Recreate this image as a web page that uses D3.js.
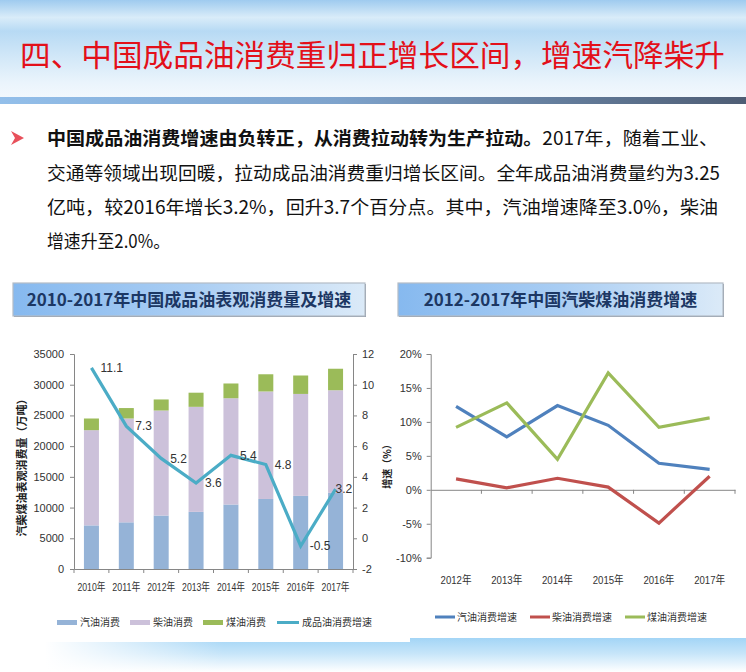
<!DOCTYPE html>
<html><head><meta charset="utf-8">
<script src="https://cdn.jsdelivr.net/npm/d3@7"></script>
<style>
html,body{margin:0;padding:0;background:#fff;}
svg{display:block;}
text{font-family:"Liberation Sans","Noto Sans CJK SC",sans-serif;}
.cjk{font-family:"Noto Sans CJK SC","Liberation Sans",sans-serif;}
</style></head>
<body>
<svg id="c" width="746" height="672"></svg>
<script>
// ---------- data ----------
const years1 = ["2010年","2011年","2012年","2013年","2014年","2015年","2016年","2017年"];
const gasoline = [7100, 7600, 8700, 9300, 10500, 11400, 11900, 12400];
const diesel   = [15500, 16900, 17100, 17100, 17300, 17500, 16600, 16700];
const kerosene = [1900, 1700, 1800, 2300, 2400, 2800, 3000, 3500];
const growth   = [11.1, 7.3, 5.2, 3.6, 5.4, 4.8, -0.5, 3.2];
const leftTicks = [0,5000,10000,15000,20000,25000,30000,35000];
const rightTicks = [-2,0,2,4,6,8,10,12];

const years2 = ["2012年","2013年","2014年","2015年","2016年","2017年"];
const gasGrowth = [12.3, 7.8, 12.4, 9.5, 3.9, 3.0];
const dieGrowth = [1.6, 0.3, 1.7, 0.4, -4.9, 2.0];
const kerGrowth = [9.2, 12.8, 4.5, 17.2, 9.2, 10.6];
const pctTicks = [-10,-5,0,5,10,15,20];

const legend1 = ["汽油消费","柴油消费","煤油消费","成品油消费增速"];
const legend2 = ["汽油消费增速","柴油消费增速","煤油消费增速"];

const svg = d3.select("#c");
const defs = svg.append("defs");

// ---------- background ----------
const gTop = defs.append("linearGradient").attr("id","gTop").attr("x1",0).attr("y1",0).attr("x2",0).attr("y2",1);
[[0,"#9fcbef"],[0.18,"#d9ecf9"],[0.32,"#b7daf4"],[0.6,"#d3e8f8"],[0.85,"#eaf4fc"],[1,"#f2f8fd"]]
  .forEach(([o,c])=>gTop.append("stop").attr("offset",o).attr("stop-color",c));
svg.append("rect").attr("x",0).attr("y",0).attr("width",746).attr("height",97).attr("fill","url(#gTop)");

const gBar = defs.append("linearGradient").attr("id","gBar");
[[0,"#93bfea"],[0.45,"#7ea3cc"],[1,"#4e5d74"]].forEach(([o,c])=>gBar.append("stop").attr("offset",o).attr("stop-color",c));
svg.append("rect").attr("x",0).attr("y",97).attr("width",746).attr("height",7).attr("fill","url(#gBar)");

const gBot = defs.append("linearGradient").attr("id","gBot").attr("x1",0).attr("y1",0).attr("x2",0).attr("y2",1);
[[0,"#a3d5f6"],[0.45,"#c6e5f9"],[1,"#ffffff"]].forEach(([o,c])=>gBot.append("stop").attr("offset",o).attr("stop-color",c));
const gBotH = defs.append("linearGradient").attr("id","gBotH");
[[0,"#fff","1"],[0.06,"#fff","1"],[0.3,"#fff","0"],[1,"#fff","0"]].forEach(([o,c,a])=>gBotH.append("stop").attr("offset",o).attr("stop-color",c).attr("stop-opacity",a));
svg.append("rect").attr("x",0).attr("y",638).attr("width",746).attr("height",34).attr("fill","url(#gBot)");
svg.append("rect").attr("x",0).attr("y",638).attr("width",746).attr("height",34).attr("fill","url(#gBotH)");
svg.append("rect").attr("x",0).attr("y",632).attr("width",410).attr("height",10).attr("fill","#fff");

// ---------- title ----------
svg.append("text").attr("class","cjk").attr("x",20).attr("y",66)
  .attr("font-size",30).attr("fill","#e3101a")
  .attr("textLength",705).attr("lengthAdjust","spacingAndGlyphs")
  .text("四、中国成品油消费重归正增长区间，增速汽降柴升");

// ---------- bullet + body text ----------
svg.append("path").attr("d","M11,131 L24,138 L11,145 L15,138 Z").attr("fill","#e8505b");
const lines = [
  {y:145, len:671, parts:[["中国成品油消费增速由负转正，从消费拉动转为生产拉动。",700],["2017年，随着工业、",400]]},
  {y:180, len:673, parts:[["交通等领域出现回暖，拉动成品油消费重归增长区间。全年成品油消费量约为3.25",400]]},
  {y:214, len:671, parts:[["亿吨，较2016年增长3.2%，回升3.7个百分点。其中，汽油增速降至3.0%，柴油",400]]},
  {y:248, len:123, parts:[["增速升至2.0%。",400]]}
];
lines.forEach(l=>{
  const t = svg.append("text").attr("class","cjk").attr("x",47).attr("y",l.y)
    .attr("font-size",18.5).attr("fill","#111")
    .attr("textLength",l.len).attr("lengthAdjust","spacingAndGlyphs");
  l.parts.forEach(p=>t.append("tspan").attr("font-weight",p[1]).text(p[0]));
});

// ---------- section header boxes ----------
const gHdr = defs.append("linearGradient").attr("id","gHdr");
[[0,"#86b9ef"],[0.5,"#a9cdf3"],[1,"#dbeaf8"]].forEach(([o,c])=>gHdr.append("stop").attr("offset",o).attr("stop-color",c));
function header(x,w,label){
  svg.append("rect").attr("x",x+1).attr("y",284).attr("width",w).attr("height",33).attr("fill","#8c96a3");
  svg.append("rect").attr("x",x).attr("y",283).attr("width",w).attr("height",33)
    .attr("fill","url(#gHdr)").attr("stroke","#b4bcc6").attr("stroke-width",1.2);
  svg.append("text").attr("class","cjk").attr("x",x+w/2).attr("y",306).attr("text-anchor","middle")
    .attr("font-size",17).attr("font-weight",700).attr("fill","#1c3763").text(label);
}
header(13,352,"2010-2017年中国成品油表观消费量及增速");
header(398,325,"2012-2017年中国汽柴煤油消费增速");

// ---------- left chart ----------
const L = {x0:74, x1:353, yTop:354, yBot:569};
const x1 = d3.scaleBand().domain(years1).range([L.x0,L.x1]).paddingInner(0.57).paddingOuter(0.285);
const xb = d3.scaleBand().domain(years1).range([L.x0,L.x1]);
const yL = d3.scaleLinear().domain([0,35000]).range([L.yBot,L.yTop]);
const yR = d3.scaleLinear().domain([-2,12]).range([L.yBot,L.yTop]);
const colors1 = ["#95b3d7","#ccc1da","#9bbb59"];
const tbl = years1.map((y,i)=>({year:y, g:gasoline[i], d:diesel[i], k:kerosene[i]}));
const stack = d3.stack().keys(["g","d","k"])(tbl);

const chart1 = svg.append("g");
stack.forEach((s,si)=>{
  chart1.selectAll(null).data(s).enter().append("rect")
    .attr("x",d=>x1(d.data.year)).attr("width",x1.bandwidth())
    .attr("y",d=>yL(d[1])).attr("height",d=>yL(d[0])-yL(d[1]))
    .attr("fill",colors1[si]);
});

const axisColor = "#868686";
const axL = chart1.append("g").attr("transform",`translate(${L.x0},0)`)
  .call(d3.axisLeft(yL).tickValues(leftTicks).tickSize(4).tickPadding(6).tickFormat(d=>String(d)));
const axR = chart1.append("g").attr("transform",`translate(${L.x1},0)`)
  .call(d3.axisRight(yR).tickValues(rightTicks).tickSize(4).tickPadding(5).tickFormat(d=>String(d)));
const axB = chart1.append("g").attr("transform",`translate(0,${L.yBot})`)
  .call(d3.axisBottom(xb).tickSize(0).tickPadding(14));
chart1.selectAll(null).data(years1.concat(["_end"])).enter().append("line")
  .attr("x1",(d,i)=>L.x0+i*xb.step()).attr("x2",(d,i)=>L.x0+i*xb.step())
  .attr("y1",L.yBot).attr("y2",L.yBot+4).attr("stroke",axisColor);
[axL,axR,axB].forEach(a=>{
  a.select(".domain").attr("stroke",axisColor);
  a.selectAll(".tick line").attr("stroke",axisColor);
  a.selectAll("text").attr("fill","#333").attr("font-size",11);
});
axB.selectAll("text").attr("font-size",11.5).attr("textLength",28).attr("lengthAdjust","spacingAndGlyphs");

const cx1 = d=>x1(d)+x1.bandwidth()/2;
chart1.append("path").datum(growth)
  .attr("d",d3.line().x((d,i)=>cx1(years1[i])).y(d=>yR(d)))
  .attr("fill","none").attr("stroke","#4bacc6").attr("stroke-width",3.2);
chart1.selectAll(null).data(growth).enter().append("text")
  .attr("x",(d,i)=>cx1(years1[i])+(i===growth.length-1?0:9))
  .attr("y",d=>yR(d)).attr("dy","0.35em")
  .attr("font-size",12).attr("fill","#333")
  .text(d=>d.toFixed(1));

svg.append("text").attr("class","cjk").attr("transform","translate(26,465) rotate(-90)")
  .attr("text-anchor","middle").attr("font-size",11).attr("font-weight",700).attr("fill","#222")
  .text("汽柴煤油表观消费量（万吨）");

const leg1x = [57,130,203,277];
legend1.forEach((t,i)=>{
  const g = svg.append("g");
  if(i<3){
    g.append("rect").attr("x",leg1x[i]).attr("y",620).attr("width",20).attr("height",5).attr("fill",colors1[i]);
  } else {
    g.append("line").attr("x1",leg1x[i]).attr("x2",leg1x[i]+22).attr("y1",622.5).attr("y2",622.5)
      .attr("stroke","#4bacc6").attr("stroke-width",3);
  }
  g.append("text").attr("class","cjk").attr("x",leg1x[i]+(i<3?23:25)).attr("y",622.5).attr("dy","0.35em")
    .attr("font-size",10).attr("fill","#333").text(t);
});

// ---------- right chart ----------
const R = {x0:430.7, x1:735, yTop:354, yBot:557.7};
const x2 = d3.scaleBand().domain(years2).range([R.x0,R.x1]);
const y2 = d3.scaleLinear().domain([-10,20]).range([R.yBot,R.yTop]);
const chart2 = svg.append("g");
const axL2 = chart2.append("g").attr("transform",`translate(${R.x0},0)`)
  .call(d3.axisLeft(y2).tickValues(pctTicks).tickSize(4).tickPadding(5).tickFormat(d=>d+"%"));
const axB2 = chart2.append("g").attr("transform",`translate(0,${y2(0)})`)
  .call(d3.axisBottom(x2).tickSize(0).tickFormat(""));
chart2.selectAll(null).data(years2).enter().append("line")
  .attr("x1",(d,i)=>R.x0+(i+1)*x2.step()).attr("x2",(d,i)=>R.x0+(i+1)*x2.step())
  .attr("y1",y2(0)).attr("y2",y2(0)+4).attr("stroke",axisColor);
[axL2,axB2].forEach(a=>{
  a.select(".domain").attr("stroke",axisColor);
  a.selectAll(".tick line").attr("stroke",axisColor);
  a.selectAll("text").attr("fill","#333").attr("font-size",11);
});
chart2.selectAll(null).data(years2).enter().append("text")
  .attr("x",d=>x2(d)+x2.bandwidth()/2).attr("y",584).attr("text-anchor","middle")
  .attr("font-size",11.5).attr("fill","#333")
  .attr("textLength",31).attr("lengthAdjust","spacingAndGlyphs").text(d=>d);

const series2 = [gasGrowth, dieGrowth, kerGrowth];
const colors2 = ["#4f81bd","#c0504d","#9bbb59"];
const line2 = d3.line().x((d,i)=>x2(years2[i])+x2.bandwidth()/2).y(d=>y2(d));
series2.forEach((s,i)=>{
  chart2.append("path").datum(s).attr("d",line2).attr("fill","none")
    .attr("stroke",colors2[i]).attr("stroke-width",3.2);
});
svg.append("text").attr("class","cjk").attr("transform","translate(391,464) rotate(-90)")
  .attr("text-anchor","middle").attr("font-size",10).attr("font-weight",700).attr("fill","#222")
  .text("增速（%）");

const leg2x = [435,530,625];
legend2.forEach((t,i)=>{
  svg.append("line").attr("x1",leg2x[i]).attr("x2",leg2x[i]+20).attr("y1",617).attr("y2",617)
    .attr("stroke",colors2[i]).attr("stroke-width",3);
  svg.append("text").attr("class","cjk").attr("x",leg2x[i]+22).attr("y",617).attr("dy","0.35em")
    .attr("font-size",10).attr("fill","#333").text(t);
});
</script>
</body></html>
